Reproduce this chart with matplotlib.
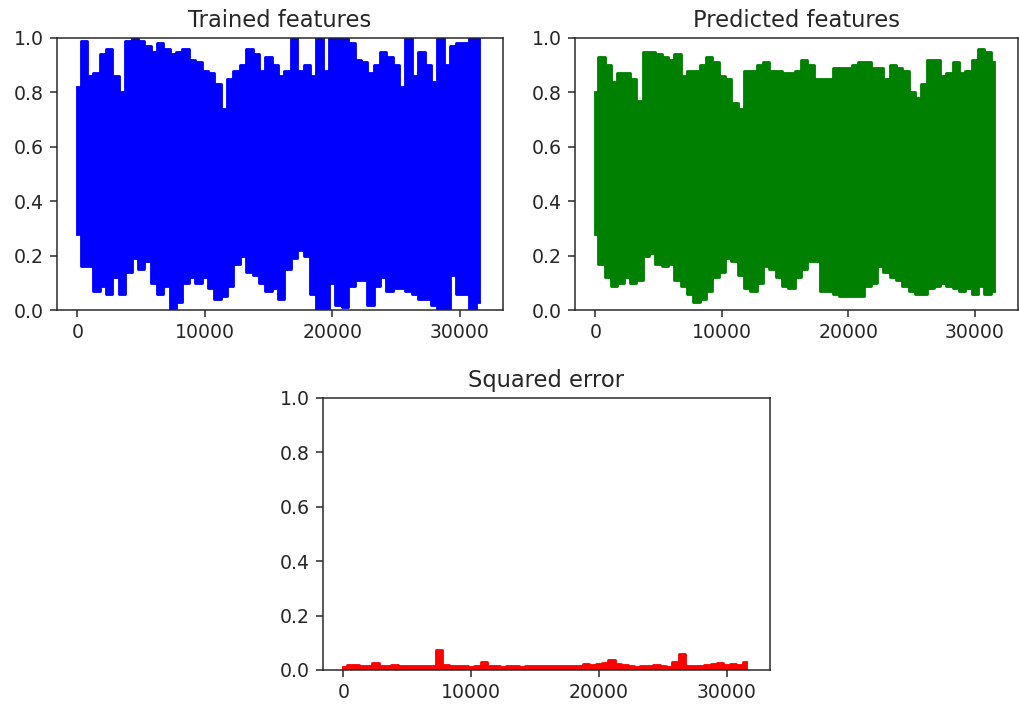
import numpy as np
import matplotlib
matplotlib.use("Agg")
import matplotlib.pyplot as plt

# sample positions (every 500 samples)
x_pos = list(range(0, 32000, 500))

trained_hi = [0.82, 0.99, 0.86, 0.87, 0.94, 0.96, 0.86, 0.80, 0.99, 1.00, 0.99, 0.97, 0.95, 0.98, 0.96, 0.94,
              0.95, 0.96, 0.92, 0.91, 0.88, 0.87, 0.83, 0.74, 0.85, 0.88, 0.90, 0.96, 0.94, 0.88, 0.93, 0.90,
              0.86, 0.88, 1.00, 0.88, 0.90, 0.86, 1.00, 0.88, 1.00, 1.00, 1.00, 0.98, 0.92, 0.91, 0.87, 0.90,
              0.95, 0.93, 0.90, 0.82, 1.00, 0.86, 0.95, 0.90, 0.84, 1.00, 0.90, 0.97, 0.98, 0.98, 1.00, 1.00]
trained_lo = [0.28, 0.16, 0.16, 0.07, 0.09, 0.06, 0.12, 0.06, 0.14, 0.19, 0.15, 0.18, 0.10, 0.06, 0.09, 0.00,
              0.03, 0.10, 0.12, 0.10, 0.12, 0.08, 0.04, 0.05, 0.09, 0.17, 0.20, 0.14, 0.13, 0.10, 0.07, 0.08,
              0.04, 0.15, 0.19, 0.22, 0.20, 0.06, 0.00, 0.00, 0.10, 0.02, 0.01, 0.09, 0.11, 0.11, 0.02, 0.09,
              0.12, 0.07, 0.08, 0.08, 0.07, 0.06, 0.04, 0.04, 0.02, 0.00, 0.00, 0.13, 0.06, 0.06, 0.00, 0.03]

pred_hi = [0.80, 0.93, 0.90, 0.84, 0.87, 0.87, 0.85, 0.77, 0.95, 0.95, 0.94, 0.93, 0.92, 0.94, 0.86, 0.88,
           0.88, 0.90, 0.93, 0.91, 0.86, 0.85, 0.76, 0.74, 0.88, 0.88, 0.90, 0.91, 0.88, 0.88, 0.87, 0.87,
           0.88, 0.92, 0.90, 0.85, 0.85, 0.85, 0.89, 0.89, 0.89, 0.90, 0.91, 0.91, 0.89, 0.89, 0.85, 0.90,
           0.89, 0.88, 0.80, 0.78, 0.83, 0.92, 0.92, 0.86, 0.87, 0.91, 0.87, 0.88, 0.92, 0.96, 0.95, 0.91]
pred_lo = [0.28, 0.17, 0.12, 0.09, 0.10, 0.12, 0.10, 0.11, 0.20, 0.21, 0.17, 0.16, 0.17, 0.11, 0.09, 0.06,
           0.03, 0.04, 0.07, 0.12, 0.14, 0.19, 0.18, 0.13, 0.08, 0.07, 0.10, 0.16, 0.15, 0.12, 0.09, 0.08,
           0.12, 0.15, 0.18, 0.18, 0.07, 0.07, 0.06, 0.05, 0.05, 0.05, 0.05, 0.09, 0.10, 0.16, 0.14, 0.12,
           0.11, 0.09, 0.07, 0.06, 0.06, 0.08, 0.09, 0.10, 0.09, 0.08, 0.07, 0.08, 0.06, 0.09, 0.06, 0.07]

err_hi = [0.012, 0.020, 0.018, 0.014, 0.013, 0.027, 0.014, 0.016, 0.018, 0.014, 0.016, 0.013, 0.015, 0.014, 0.016, 0.074,
          0.018, 0.015, 0.013, 0.014, 0.012, 0.014, 0.030, 0.015, 0.013, 0.012, 0.014, 0.013, 0.012, 0.014, 0.015, 0.013,
          0.015, 0.014, 0.013, 0.014, 0.015, 0.016, 0.022, 0.020, 0.022, 0.024, 0.037, 0.022, 0.020, 0.015, 0.012, 0.013,
          0.014, 0.018, 0.013, 0.012, 0.030, 0.060, 0.014, 0.013, 0.015, 0.020, 0.022, 0.024, 0.018, 0.022, 0.020, 0.028]
err_lo = [0.0] * len(err_hi)

titles = ["Trained features", "Predicted features", "Squared error"]
colors = ["blue", "green", "red"]

ink = "#262626"
plt.rcParams.update({
    "text.color": ink, "axes.edgecolor": ink, "xtick.color": ink, "ytick.color": ink,
    "axes.titlecolor": ink, "xtick.labelcolor": ink, "ytick.labelcolor": ink,
})

DPI = 136
fig = plt.figure(figsize=(1019 / DPI, 706 / DPI), dpi=DPI)
ax1 = fig.add_axes([0.0559, 0.5609, 0.4377, 0.3853])
ax2 = fig.add_axes([0.5643, 0.5609, 0.4347, 0.3853])
ax3 = fig.add_axes([0.3170, 0.0510, 0.4387, 0.3853])

series = [(trained_hi, trained_lo), (pred_hi, pred_lo), (err_hi, err_lo)]
x = np.array(x_pos, dtype=float)
for ax, (hi, lo), col, title in zip([ax1, ax2, ax3], series, colors, titles):
    hi = np.array(hi)
    lo = np.array(lo)
    ax.fill_between(x, lo, hi, step="mid", color=col, lw=0)
    ax.vlines(x, lo, hi, color=col, lw=1.5)
    ax.plot(x, hi, color=col, lw=1.5, drawstyle="steps-mid")
    ax.plot(x, lo, color=col, lw=1.5, drawstyle="steps-mid")
    ax.set_ylim(0, 1.0)
    ax.set_xlim(-1600, 33400)
    ax.set_xticks([0, 10000, 20000, 30000])
    ax.set_title(title)

fig.savefig("out.png", dpi=DPI)
